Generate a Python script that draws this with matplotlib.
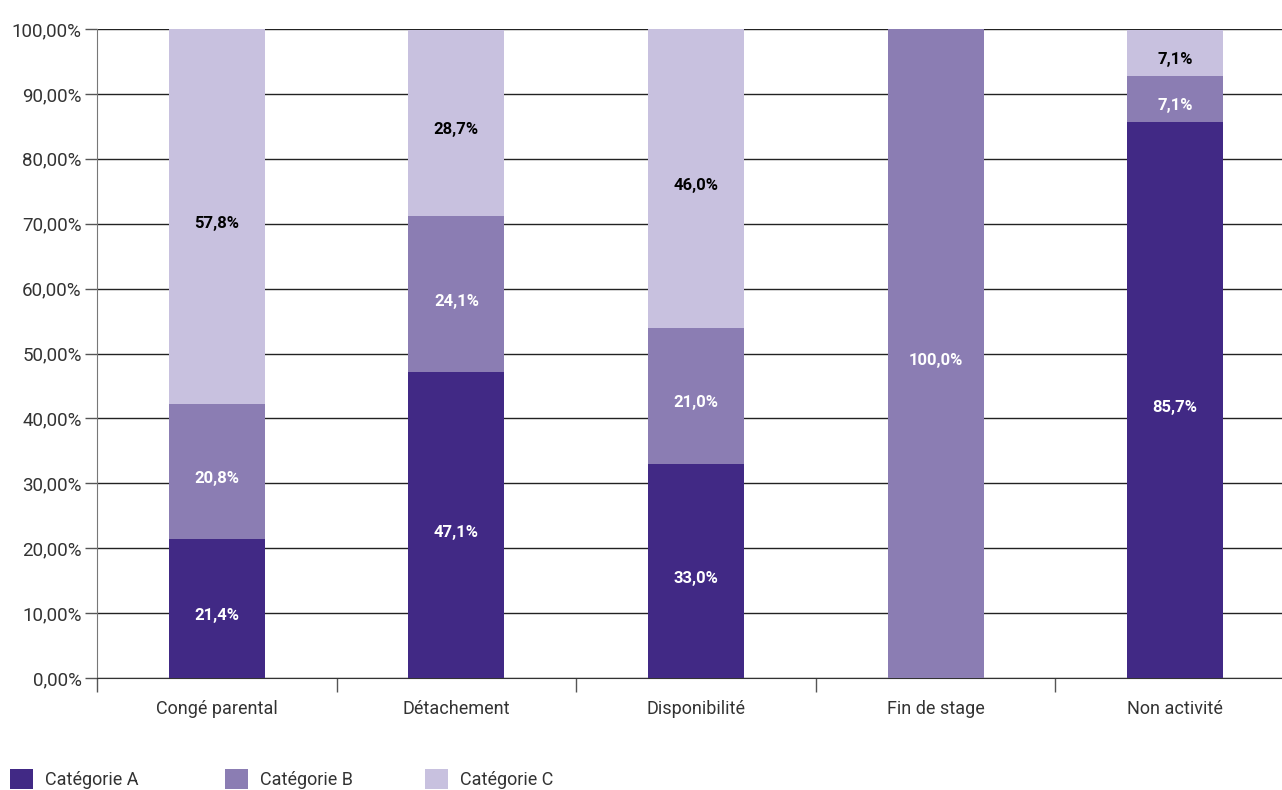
import matplotlib.pyplot as plt
import numpy as np
from matplotlib.ticker import FixedLocator
from matplotlib.patches import Patch

plt.rcParams['font.family'] = ['Roboto', 'DejaVu Sans']

# data
categories = ["Congé parental", "Détachement", "Disponibilité", "Fin de stage", "Non activité"]
cat_a = [21.4, 47.1, 33.0, 0.0, 85.7]
cat_b = [20.8, 24.1, 21.0, 100.0, 7.1]
cat_c = [57.8, 28.7, 46.0, 0.0, 7.1]
series_names = ["Catégorie A", "Catégorie B", "Catégorie C"]
colors = ["#412985", "#8b7db3", "#c8c1df"]
label_colors = ["white", "white", "black"]

W, H = 1282, 790
fig = plt.figure(figsize=(W / 100, H / 100), dpi=100)
# plot area: x 97 -> ~1295 (runs off the right edge), y 29 -> 678
ax = fig.add_axes([97 / W, 1 - 678 / H, 1198 / W, 649 / H])

x = np.arange(len(categories))
bottom = np.zeros(len(categories))
for vals, col, lc in zip([cat_a, cat_b, cat_c], colors, label_colors):
    vals = np.array(vals)
    ax.bar(x, vals, width=0.4, bottom=bottom, color=col, zorder=3)
    for xi, v, b in zip(x, vals, bottom):
        if v > 0:
            # labels sit a little below the segment centre in the original
            ax.text(xi, b + v / 2 - 1.1, f"{v:.1f}%".replace(".", ","), ha="center", va="center",
                    color=lc, fontsize=12, fontweight="bold", zorder=4)
    bottom += vals

ax.set_xlim(-0.5, len(categories) - 0.5)
ax.set_ylim(0, 100)
ax.set_yticks(np.arange(0, 101, 10))
ax.set_yticklabels([f"{v:.2f}%".replace(".", ",") for v in np.arange(0, 101, 10)])
ax.yaxis.grid(True, color="#222222", linewidth=1, zorder=0)
ax.set_xticks(x)
ax.set_xticklabels(categories)
ax.xaxis.set_minor_locator(FixedLocator(np.arange(-0.5, len(categories), 1)))
ax.tick_params(axis="x", which="major", length=0, pad=16, labelsize=13, labelcolor="#333333")
ax.tick_params(axis="x", which="minor", length=10, color="#555555", width=1)
ax.tick_params(axis="y", length=9, color="#555555", width=1, labelsize=13.5, labelcolor="#333333", pad=2)

for s in ["top", "right"]:
    ax.spines[s].set_visible(False)
ax.spines["left"].set_color("#777777")
ax.spines["bottom"].set_color("#333333")

# legend entries placed one by one, as in the original
legend_x = [10, 225, 425]
for name, col, lx in zip(series_names, colors, legend_x):
    fig.legend([Patch(facecolor=col, edgecolor="none")], [name], loc="lower left",
               bbox_to_anchor=(lx / W, 1 / H), frameon=False, fontsize=13,
               handlelength=1.27, handleheight=1.27, handletextpad=0.66,
               borderpad=0, borderaxespad=0, labelcolor="#333333")

plt.savefig("out.png", dpi=100)
plt.close()
